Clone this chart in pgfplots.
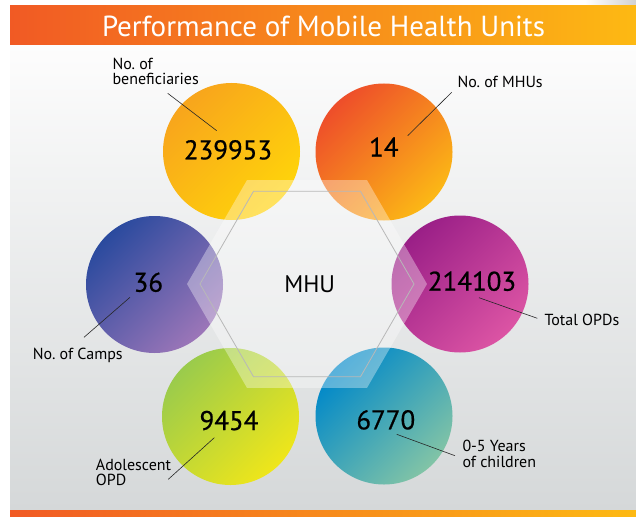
\documentclass[border=0pt]{standalone}
\usepackage{pgfplots}
\pgfplotsset{compat=1.18}
\usepackage{fontspec}
\setmainfont{PT Sans}
\newfontfamily\numfam{PT Sans}[FakeBold=0.6]
\frenchspacing
\definecolor{yA}{HTML}{F8A51C}\definecolor{yB}{HTML}{FFD40A}
\definecolor{oA}{HTML}{EE4E2A}\definecolor{oB}{HTML}{FCB815}
\definecolor{pA}{HTML}{2A4A9E}\definecolor{pB}{HTML}{9C76B8}
\definecolor{mA}{HTML}{9A1F87}\definecolor{mB}{HTML}{DC54A4}
\definecolor{gA}{HTML}{9ACB4C}\definecolor{gB}{HTML}{EFE61A}
\definecolor{bA}{HTML}{0088C9}\definecolor{bB}{HTML}{82C4A6}
\definecolor{barL}{HTML}{F15A24}\definecolor{barM}{HTML}{F7941D}\definecolor{barR}{HTML}{FDB913}
\definecolor{bgT}{HTML}{FDFDFD}\definecolor{bgB}{HTML}{D5D8D9}
\newcommand\numfont{\numfam\fontsize{27}{30}\selectfont}
\newcommand\labfont{\fontsize{16}{18}\selectfont}
\tikzset{circ/.style 2 args={circle, minimum size=137pt, inner sep=0pt, anchor=center, draw=none, top color=#1, bottom color=#2, shading angle=45}}
\pgfplotsset{canvas/.style={width=636pt, height=516pt, scale only axis,
  xmin=0, xmax=636, ymin=0, ymax=516, y dir=reverse, hide axis, clip=true}}
\begin{document}
\begin{tikzpicture}
\begin{axis}[canvas]
% page
\addplot[fill=white, draw=none] coordinates {(0,0) (636,0) (636,516) (0,516)} -- cycle;
\addplot[draw=none, left color=white, right color=black!18] coordinates {(585,0) (636,0) (636,6) (585,6)} -- cycle;
% panel background
\addplot[draw=none, top color=bgT, bottom color=bgB] coordinates {(10,44) (636,44) (636,510) (10,510)} -- cycle;
% title banner
\addplot[draw=none, left color=barL, middle color=barM, right color=barR] coordinates {(10,6) (636,6) (636,44.3) (10,44.3)} -- cycle;
% bottom bar
\addplot[draw=none, left color=barL, middle color=barM, right color=barR] coordinates {(10,510) (636,510) (636,516) (10,516)} -- cycle;
% circles
\addplot[draw=none, mark=none, nodes near coords={}, every node near coord/.style={circ={yA}{yB}}] coordinates {(231.5,151.5)};
\addplot[draw=none, mark=none, nodes near coords={}, every node near coord/.style={circ={oA}{oB}}] coordinates {(384,152)};
\addplot[draw=none, mark=none, nodes near coords={}, every node near coord/.style={circ={pA}{pB}}] coordinates {(154.5,284.5)};
\addplot[draw=none, mark=none, nodes near coords={}, every node near coord/.style={circ={mA}{mB}}] coordinates {(460,284)};
\addplot[draw=none, mark=none, nodes near coords={}, every node near coord/.style={circ={gA}{gB}}] coordinates {(230.5,416.5)};
\addplot[draw=none, mark=none, nodes near coords={}, every node near coord/.style={circ={bA}{bB}}] coordinates {(384,416)};
\end{axis}
\begin{axis}[canvas]
% hexagon
\addplot[draw=none, fill=white, fill opacity=0.35] coordinates {(427,284) (367,180.1) (247,180.1) (187,284) (247,387.9) (367,387.9)} -- cycle;
\addplot[draw=black!28, line width=0.8pt] coordinates {(414,284) (360.5,191.3) (253.5,191.3) (200,284) (253.5,376.7) (360.5,376.7)} -- cycle;
% leader lines
\addplot[black!85, line width=0.6pt] coordinates {(167.7,93.3) (216.7,130.7)};
\addplot[black!85, line width=0.6pt] coordinates {(451.7,92.3) (407.7,135.7)};
\addplot[black!85, line width=0.6pt] coordinates {(130,297.3) (84,337.3)};
\addplot[black!85, line width=0.6pt] coordinates {(479,297.7) (537.3,318.3)};
\addplot[black!85, line width=0.6pt] coordinates {(396.7,434.3) (455,455.7)};
\addplot[black!85, line width=0.6pt] coordinates {(214.3,437.7) (168.3,479.3)};
% values
\addplot[draw=none, mark=none, point meta=explicit symbolic, nodes near coords,
  every node near coord/.style={anchor=base, font=\numfont, text=black, inner sep=0pt}]
  coordinates {(228,159.3)[239953] (383.8,156.7)[14] (148.3,291.7)[36] (472,290.7)[214103] (229,430)[9454] (385.8,429.3)[6770]};
% texts
\node[anchor=base, inner sep=0pt, text=white, font=\fontsize{29}{32}\selectfont] at (axis cs:323.5,36.7) {Performance of Mobile Health Units};
\node[anchor=base, inner sep=0pt, font=\fontsize{24}{26}\selectfont] at (axis cs:309.7,292.7) {MHU};
\node[anchor=base west, inner sep=0pt, font=\labfont] at (axis cs:112.3,69.3) {No. of};
\node[anchor=base west, inner sep=0pt, font=\labfont] at (axis cs:112.3,84.3) {beneficiaries};
\node[anchor=base west, inner sep=0pt, font=\labfont] at (axis cs:457.3,87.7) {No. of MHUs};
\node[anchor=base west, inner sep=0pt, font=\labfont] at (axis cs:32.7,359.3) {No. of Camps};
\node[anchor=base west, inner sep=0pt, font=\labfont] at (axis cs:544.3,325.3) {Total OPDs};
\node[anchor=base west, inner sep=0pt, font=\labfont] at (axis cs:462.3,451.7) {0-5 Years};
\node[anchor=base west, inner sep=0pt, font=\labfont] at (axis cs:462.3,467.7) {of children};
\node[anchor=base west, inner sep=0pt, font=\labfont] at (axis cs:95.7,470.7) {Adolescent};
\node[anchor=base west, inner sep=0pt, font=\labfont] at (axis cs:95.7,485.7) {OPD};
\end{axis}
\end{tikzpicture}
\end{document}
